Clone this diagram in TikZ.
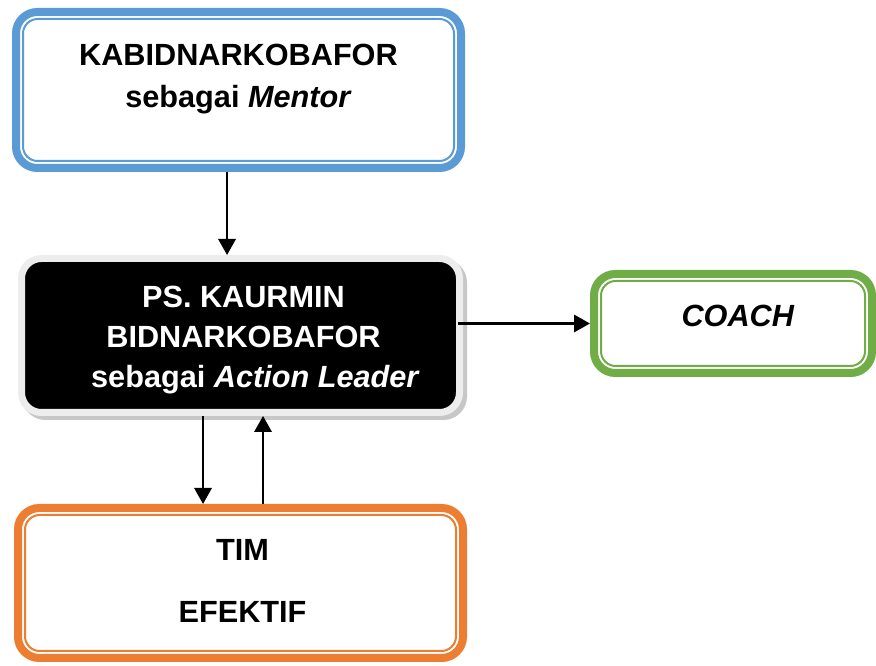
\documentclass[tikz,border=0pt]{standalone}
\usepackage{fontspec}
\setmainfont{Liberation Sans}
\usetikzlibrary{arrows.meta, positioning, calc, shadows}
\definecolor{mentorblue}{HTML}{5B9BD5}
\definecolor{coachgreen}{HTML}{70AD47}
\definecolor{timorange}{HTML}{ED7D31}
\tikzset{
    framebox/.style={rectangle, draw=#1, fill=white, line width=6pt, rounded corners=16pt, inner sep=0pt},
    leaderbox/.style={rectangle, draw=black!7, fill=black, line width=5.25pt, rounded corners=15pt, inner sep=0pt,
        drop shadow={shadow xshift=3pt, shadow yshift=-3pt, fill=black!22, draw=black!22, opacity=1}},
    thinline/.style={draw=#1, line width=1.5pt, rounded corners=11pt},
    boxtext/.style={font=\fontsize{23}{31.5}\selectfont\bfseries, align=center, inner sep=0pt},
    flowarrow/.style={-{Triangle[length=12pt, width=13pt]}, line width=1.7pt}
}

\begin{document}
\begin{tikzpicture}[x=0.75pt, y=-0.75pt]
  \useasboundingbox (0,0) rectangle (876,666);
  % boxes
  \node[framebox=mentorblue, minimum width=333.75pt, minimum height=117pt] (kab) at (238.5, 90) {};
  \node[leaderbox, minimum width=328.5pt, minimum height=115.5pt] (ps) at (240.5, 335.5) {};
  \node[framebox=coachgreen, minimum width=208.5pt, minimum height=74.25pt] (coach) at (733, 323.5) {};
  \node[framebox=timorange, minimum width=333.75pt, minimum height=112.5pt] (tim) at (240.5, 583) {};
  \draw[thinline=mentorblue] ([shift={(11,-11)}]kab.south west) rectangle ([shift={(-11,11)}]kab.north east);
  \draw[thinline=coachgreen] ([shift={(11,-11)}]coach.south west) rectangle ([shift={(-11,11)}]coach.north east);
  \draw[thinline=timorange] ([shift={(11,-11)}]tim.south west) rectangle ([shift={(-11,11)}]tim.north east);
  % texts
  \node[boxtext] (kabtext) at ([shift={(0,-11)}]kab.center) {KABIDNARKOBAFOR\\sebagai \textit{Mentor}};
  \node[boxtext, text=white] (pstext) at ([shift={(3,5)}]ps.center) {PS. KAURMIN\\[-1.5pt]BIDNARKOBAFOR\\[-1.5pt]\hspace*{18pt}sebagai \textit{Action Leader}};
  \node[boxtext] (coachtext) at ([shift={(5,-7.5)}]coach.center) {\textit{COACH}};
  \node[boxtext] (timtext) at ([shift={(2,-2)}]tim.center) {TIM\\[15pt]EFEKTIF};
  % arrows
  \draw[flowarrow] ([xshift=-8.6pt]kab.south) -- ([xshift=-8.6pt]kab.south |- ps.north);
  \draw[flowarrow] ([xshift=-4pt]ps.east |- coach.west) -- (coach.west);
  \draw[flowarrow] ([xshift=-28.1pt]ps.south) -- ([xshift=-28.1pt]ps.south |- tim.north);
  \draw[flowarrow] ([xshift=16.9pt]ps.south |- tim.north) -- ([xshift=16.9pt]ps.south);
\end{tikzpicture}
\end{document}
